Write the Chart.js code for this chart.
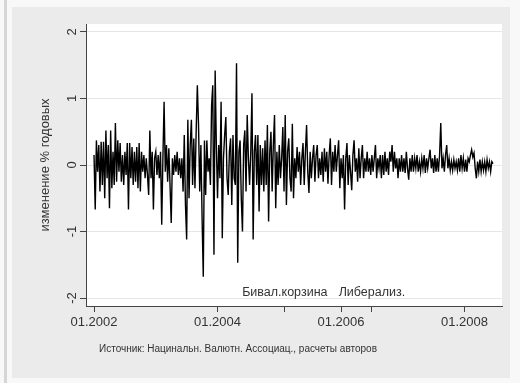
<!DOCTYPE html>
<html><head><meta charset="utf-8">
<script src="https://cdn.jsdelivr.net/npm/chart.js@4"></script>
<style>html,body{margin:0;padding:0;background:#f7f7f7;} canvas{display:block}</style>
</head><body>
<canvas id="c" width="520" height="383"></canvas>
<script>
// ---- data (weekly changes, % p.a.) ----
const years = [2002, 2003, 2004, 2005, 2006, 2007, 2008];
const y2002 = [0.15,-0.67,0.37,-0.1,0.3,-0.4,0.35,-0.3,0.35,-0.5, 0.52,-0.2,0.3,-0.65,0.52,-0.35,0.2,-0.3,0.63,-0.25, 0.37,-0.1,0.33,-0.25,0.15,-0.3,0.2,-0.15,0.33,-0.67, 0.33,-0.2,0.27,-0.3,0.2,-0.25,0.27,-0.35,0.33,-0.4, 0.2,-0.1,0.15,-0.2,0.1,-0.15,-0.45,0.52,-0.2,0.2, -0.67,0.1];
const y2003 = [0.2,-0.15,0.15,-0.2,0.2,-0.9,0.1,0.95,-0.1,0.3, -0.25,0.25,-0.3,-0.87,0.1,-0.15,0.15,-0.1,0.2,-0.15, 0.1,-0.2,0.1,-0.4,0.45,-0.6,-1.12,0.68,-0.5,0.3, 0.68,-0.3,0.4,-0.35,0.5,1.2,0.6,-0.4,0.3,-0.8, -1.68,0.37,-0.45,0.37,-0.1,0.1,-0.3,0.9,1.2,-1.35, 1.42,0.3];
const y2004 = [-0.5,0.3,-0.2,0.95,-1.1,0.1,0.45,0.72,-0.2,-0.45, 0.2,0.4,-0.6,0.45,-0.2,-0.3,1.53,-1.47,0.2,0.37, -0.5,-1.0,0.3,0.52,-0.4,0.75,0.1,-0.3,0.2,1.08, -1.12,0.2,0.45,-0.3,0.45,-0.7,0.3,-0.3,0.25,-0.4, 0.37,-0.3,0.6,-0.85,0.2,0.5,-0.4,0.3,0.75,-0.65, 0.2,-0.3];
const y2005 = [0.3,-0.2,0.1,0.57,-0.4,0.75,-0.6,0.2,0.4,-0.2, -0.4,0.62,-0.5,0.1,-0.2,0.27,-0.1,0.2,-0.3,0.1, 0.33,-0.3,0.2,0.6,-0.1,-0.42,0.2,-0.2,0.1,0.3, -0.25,0.15,0.3,-0.2,0.1,-0.15,0.2,-0.25,0.25,-0.1, 0.2,-0.28,0.15,0.4,-0.3,0.2,-0.1,0.3,-0.1,0.15, 0.37,-0.35];
const y2006 = [0.1,-0.2,0.15,-0.67,0.1,0.33,-0.3,0.15,-0.1,-0.38, 0.15,0.37,-0.1,0.1,-0.25,0.25,-0.2,0.1,0.3,-0.2, 0.1,-0.1,0.2,-0.1,0.1,-0.15,0.15,-0.1,0.1,0.3, -0.2,0.1,-0.05,0.15,-0.2,0.15,-0.15,0.2,-0.1,0.1, -0.15,0.2,0.05,0.3,-0.1,0.2,-0.05,0.1,-0.2,0.1, -0.1,0.15];
const y2007 = [-0.1,0.1,-0.12,0.2,-0.05,-0.22,0.1,-0.1,0.15,-0.1, 0.1,-0.05,0.15,-0.1,0.05,-0.1,0.1,-0.05,0.15,-0.12, 0.1,-0.05,0.1,0.23,-0.05,0.1,-0.12,0.15,-0.1,0.1, -0.1,0.15,0.63,-0.05,0.1,-0.1,0.15,0.3,-0.05,0.1, -0.08,0.05,-0.08,0.08,-0.05,0.05,-0.08,0.1,-0.1,0.15, -0.05,0.1];
const y2008 = [-0.1,0.08,-0.1,0.1,0.05,0.15,0.23,0.12,0.18,-0.05, -0.2,0.05,-0.1,0.08,-0.1,0.05,-0.08,0.05,-0.1,0.08, -0.05,0.05,-0.1,0.05,0.02];
const yearSeries = [y2002, y2003, y2004, y2005, y2006, y2007, y2008];
const weeksPerYear = 52;

const xTickYears = [2002, 2004, 2006, 2008];
const eventDates = [2005.09, 2006.5];
const eventLabels = ['Бивал.корзина', 'Либерализ.'];
const yTicks = [-2, -1, 0, 1, 2];
const yTitle = 'изменение % годовых';
const sourceNote = 'Источник: Нацинальн. Валютн. Ассоциац., расчеты авторов';

const points = [];
yearSeries.forEach((arr, j) => arr.forEach((v, k) => points.push({x: years[j] + k / weeksPerYear, y: v})));

const FONT = "'Liberation Sans', Arial, sans-serif";

const framePlugin = {
  id: 'frame',
  beforeDraw(chart) {
    const {ctx, chartArea: a} = chart;
    ctx.save();
    ctx.fillStyle = '#f8f8f8';
    ctx.fillRect(0, 0, chart.width, chart.height);
    ctx.fillStyle = '#d6d6d6';
    ctx.fillRect(4, 0, 3, chart.height);
    ctx.fillStyle = '#ebebeb';
    ctx.fillRect(12, 7, 498, 371);
    ctx.fillStyle = '#ffffff';
    ctx.fillRect(a.left, a.top, a.right - a.left, a.bottom - a.top);
    ctx.restore();
  },
  afterDraw(chart) {
    const {ctx} = chart;
    const xs = chart.scales.x, ys = chart.scales.y;
    ctx.save();
    ctx.fillStyle = '#333';
    ctx.font = '13px ' + FONT;
    ctx.textAlign = 'center';
    ctx.textBaseline = 'middle';
    yTicks.forEach(v => {
      const py = ys.getPixelForValue(v);
      ctx.save();
      ctx.translate(72, py);
      ctx.rotate(-Math.PI / 2);
      ctx.fillText(String(v), 0, 0);
      ctx.restore();
    });
    ctx.font = '12.5px ' + FONT;
    eventDates.forEach((d, i) => {
      ctx.fillText(eventLabels[i], xs.getPixelForValue(d), ys.getPixelForValue(-2) - 5);
    });
    ctx.font = '10px ' + FONT;
    ctx.textAlign = 'left';
    ctx.fillText(sourceNote, 99, 349);
    ctx.restore();
  }
};

new Chart(document.getElementById('c'), {
  type: 'line',
  data: {datasets: [{
    data: points,
    borderColor: '#000',
    borderWidth: 1.4,
    pointRadius: 0,
    tension: 0,
    fill: false
  }]},
  options: {
    responsive: false,
    animation: false,
    devicePixelRatio: 1,
    layout: {padding: {top: 24, right: 18, bottom: 0, left: 0}},
    plugins: {legend: {display: false}, tooltip: {enabled: false}},
    scales: {
      x: {
        type: 'linear',
        min: 2001.87,
        max: 2008.607,
        afterBuildTicks: s => { s.ticks = xTickYears.concat(eventDates).sort((a, b) => a - b).map(v => ({value: v})); },
        afterFit: s => { s.height = 77; },
        ticks: {
          autoSkip: false, maxRotation: 0, minRotation: 0, padding: 3,
          color: '#333', font: {family: FONT, size: 13},
          callback: v => xTickYears.includes(v) ? '01.' + v : ''
        },
        grid: {drawOnChartArea: false, drawTicks: true, tickLength: 6, tickColor: '#444'},
        border: {color: '#444', width: 1}
      },
      y: {
        min: -2.12,
        max: 2.12,
        afterBuildTicks: s => { s.ticks = yTicks.map(v => ({value: v})); },
        afterFit: s => { s.width = 86; },
        ticks: {display: false},
        grid: {color: '#e6e6e6', lineWidth: 1, drawTicks: true, tickLength: 6, tickColor: '#444'},
        border: {color: '#444', width: 1},
        title: {display: true, text: yTitle, color: '#333', font: {family: FONT, size: 13}, padding: {top: 38, bottom: 0}}
      }
    }
  },
  plugins: [framePlugin]
});
</script>
</body></html>
